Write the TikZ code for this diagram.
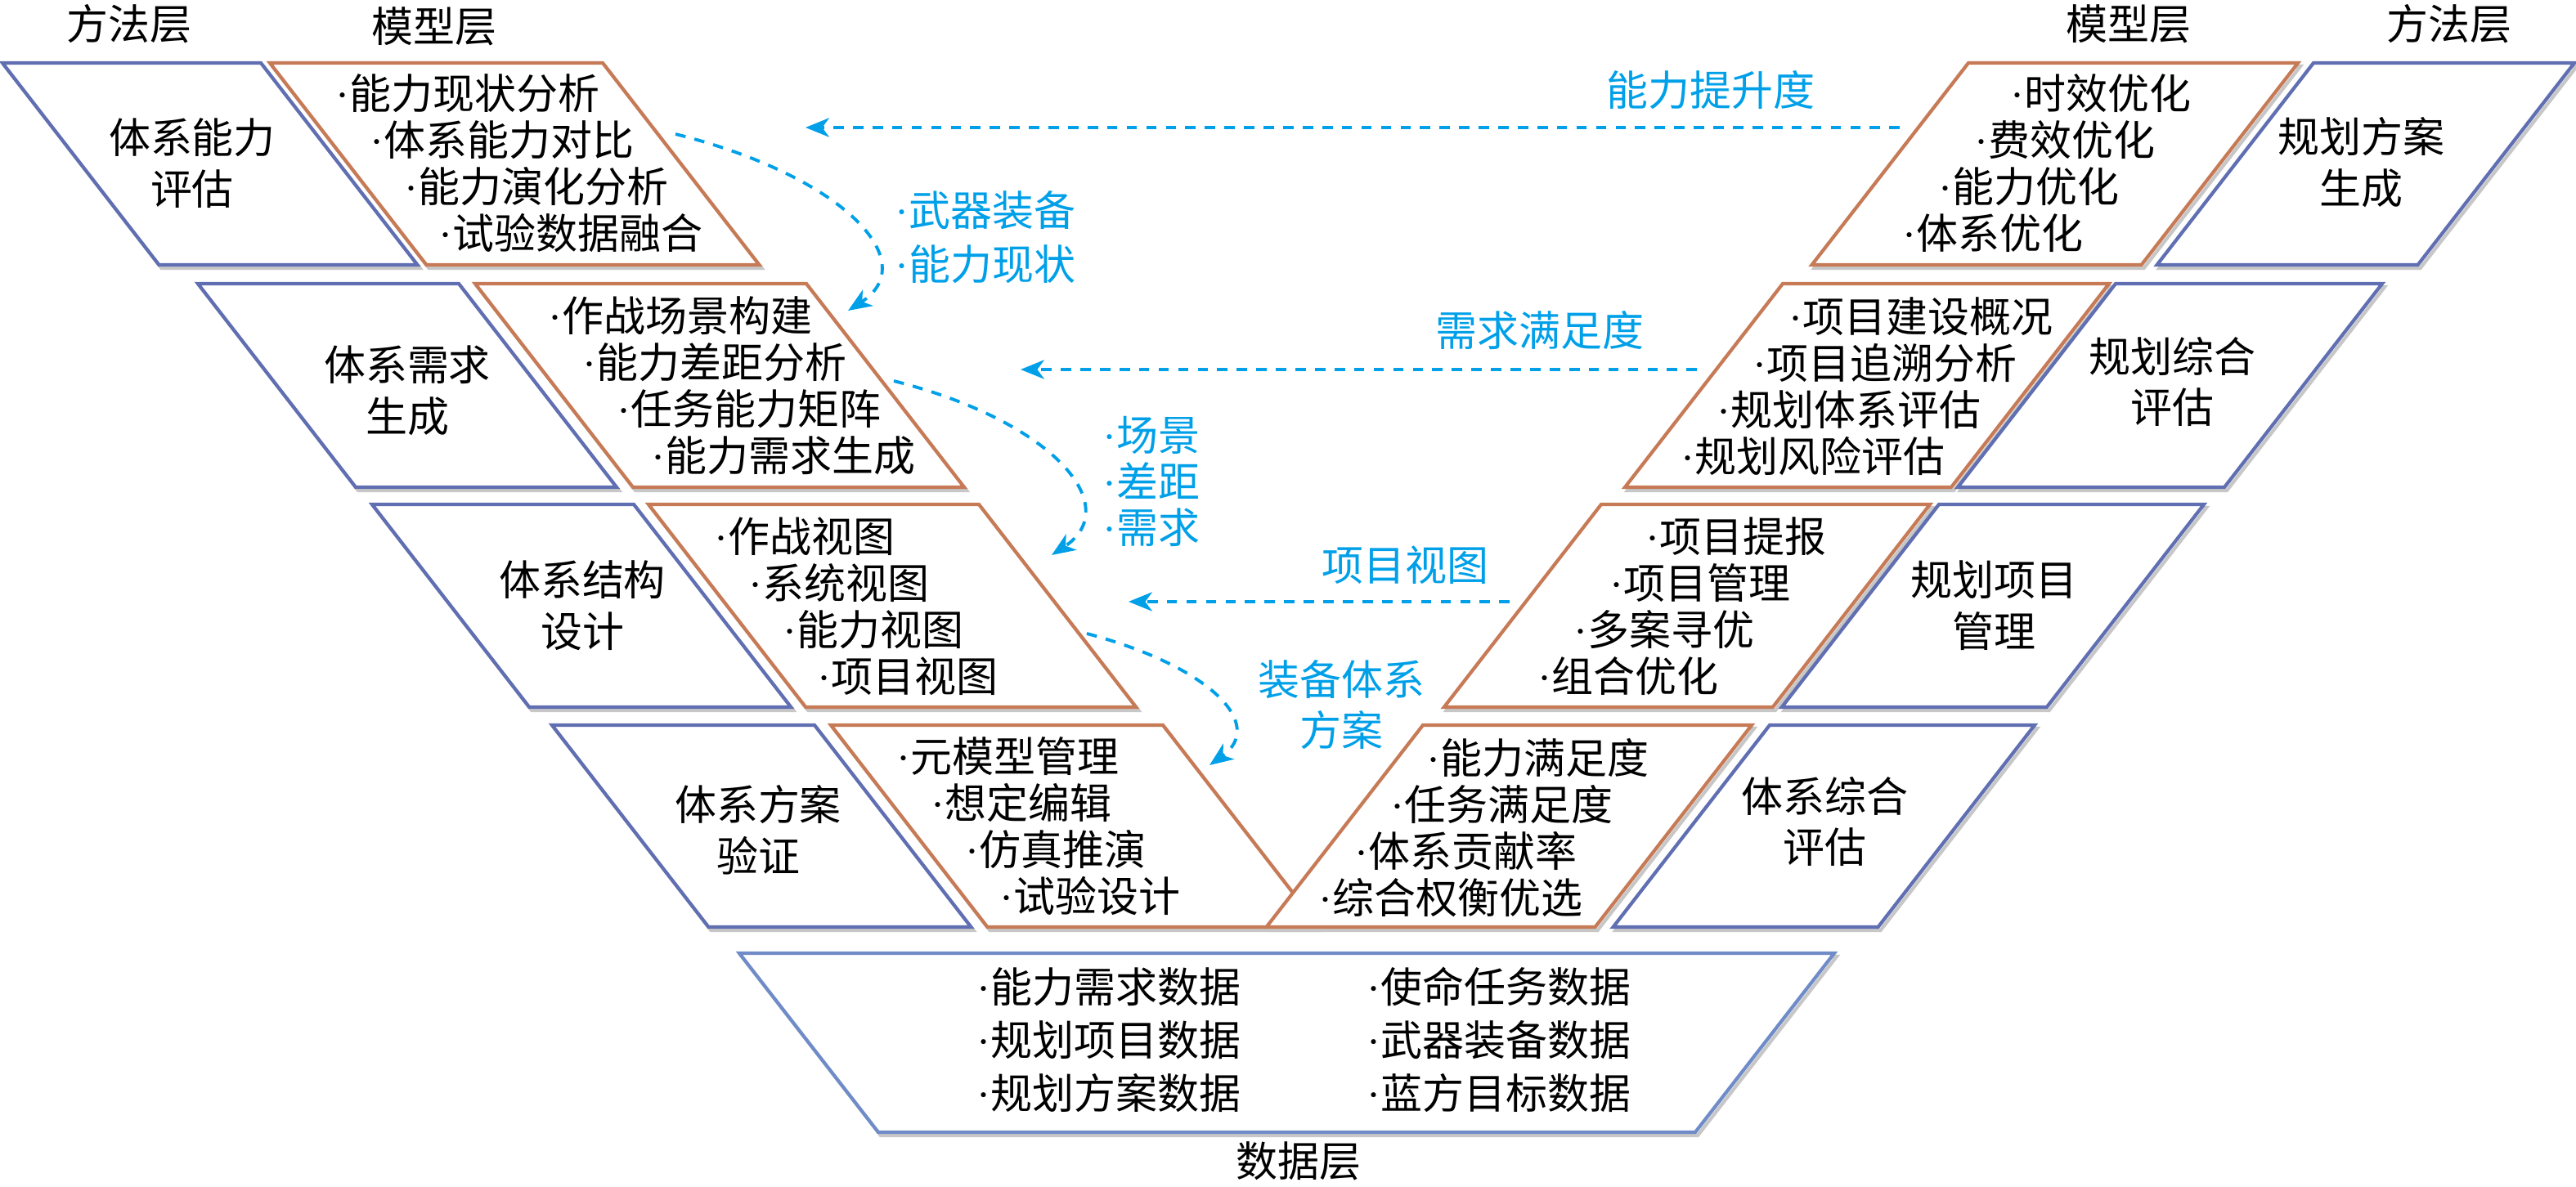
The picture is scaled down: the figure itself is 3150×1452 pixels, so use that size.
\documentclass[tikz,border=0pt]{standalone}
\usepackage{fontspec}
\newfontfamily\cjk{Noto Sans CJK SC}
\newfontfamily\latinf{Liberation Serif}
\usetikzlibrary{arrows.meta}
\definecolor{bluebox}{RGB}{96,110,178}
\definecolor{orgbox}{RGB}{198,122,86}
\definecolor{databox}{RGB}{112,140,200}
\definecolor{cyanc}{RGB}{0,160,233}
\newcommand\mydot{{\latinf ·}}
% parallelogram: #1 colour, #2 top-left x, #3 top-right x, #4 top y, #5 bottom y, #6 slope
\newcommand\pgram[6]{%
  \draw[draw=black!22, line width=1.2pt, shift={(3,4)}] (#2,#4) -- (#3,#4) -- ({#3+(#6)*(#5-#4)},#5) -- ({#2+(#6)*(#5-#4)},#5) -- cycle;
  \draw[draw=#1, fill=white, line width=1.2pt] (#2,#4) -- (#3,#4) -- ({#3+(#6)*(#5-#4)},#5) -- ({#2+(#6)*(#5-#4)},#5) -- cycle;
}
\tikzset{
  bk/.style={inner sep=0pt, text=black, font=\cjk\fontsize{14.5}{16.2}\selectfont, align=left, anchor=west},
  mt/.style={inner sep=0pt, text=black, font=\cjk\fontsize{14.5}{17.9}\selectfont, align=center},
  dl/.style={inner sep=0pt, text=black, font=\cjk\fontsize{14.5}{18.5}\selectfont, align=left, anchor=west},
  hd/.style={inner sep=0pt, text=black, font=\cjk\fontsize{14.5}{17}\selectfont},
  cy/.style={inner sep=0pt, text=cyanc, font=\cjk\fontsize{14.5}{16.2}\selectfont},
  conn/.style={cyanc, line width=1.1pt, dash pattern=on 3.6pt off 3.2pt, -{Stealth[length=8.2pt,width=6.6pt,inset=2.4pt]}},
}
\begin{document}
\begin{tikzpicture}[x=0.01cm, y=-0.01cm]
\useasboundingbox (0,0) rectangle (3150,1452);
\fill[white] (0,0) rectangle (3150,1452);

% ---- left method boxes
\pgram{bluebox}{3}{319}{77}{324}{0.775}
\pgram{bluebox}{242}{561}{347}{596}{0.775}
\pgram{bluebox}{455}{775}{617}{865}{0.775}
\pgram{bluebox}{675}{996}{887}{1134}{0.775}
% ---- left model boxes
\pgram{orgbox}{330}{737}{77}{324}{0.775}
\pgram{orgbox}{581}{986}{347}{596}{0.775}
\pgram{orgbox}{793}{1197}{617}{865}{0.775}
\pgram{orgbox}{1016}{1422}{887}{1134}{0.775}
% ---- right model boxes
\pgram{orgbox}{2407}{2810}{77}{324}{-0.775}
\pgram{orgbox}{2180}{2579}{347}{596}{-0.775}
\pgram{orgbox}{1958}{2360}{617}{865}{-0.775}
\pgram{orgbox}{1740}{2142}{887}{1134}{-0.775}
% ---- right method boxes
\pgram{bluebox}{2829}{3148}{77}{324}{-0.775}
\pgram{bluebox}{2587}{2913}{347}{596}{-0.775}
\pgram{bluebox}{2371}{2695}{617}{865}{-0.775}
\pgram{bluebox}{2164}{2488}{887}{1134}{-0.775}
% ---- data box
\draw[draw=black!22, line width=1.2pt, shift={(3,4)}] (904,1166) -- (2243,1166) -- (2073,1385) -- (1074,1385) -- cycle;
\draw[draw=databox, fill=white, line width=1.2pt] (904,1166) -- (2243,1166) -- (2073,1385) -- (1074,1385) -- cycle;

% ---- headers
\node[hd] (h1) at (158,29) {方法层};
\node[hd] (h2) at (531,32) {模型层};
\node[hd] (h3) at (2603,29) {模型层};
\node[hd] (h4) at (2995,29) {方法层};

% ---- method texts
\node[mt] (lme1) at (235,200) {体系能力\\评估};
\node[mt] (lme2) at (498,478) {体系需求\\生成};
\node[mt] (lme3) at (712,741) {体系结构\\设计};
\node[mt] (lme4) at (927,1015) {体系方案\\验证};
\node[mt] (rme1) at (2887,199) {规划方案\\生成};
\node[mt] (rme2) at (2656,467) {规划综合\\评估};
\node[mt] (rme3) at (2438,741) {规划项目\\管理};
\node[mt] (rme4) at (2231,1005) {体系综合\\评估};

% ---- model texts (left)
\node[bk] (lmod1) at (410,200) {\mydot 能力现状分析\\\hspace*{0.42cm}\mydot 体系能力对比\\\hspace*{0.84cm}\mydot 能力演化分析\\\hspace*{1.26cm}\mydot 试验数据融合};
\node[bk] (lmod2) at (670,472) {\mydot 作战场景构建\\\hspace*{0.42cm}\mydot 能力差距分析\\\hspace*{0.84cm}\mydot 任务能力矩阵\\\hspace*{1.26cm}\mydot 能力需求生成};
\node[bk] (lmod3) at (873,742) {\mydot 作战视图\\\hspace*{0.42cm}\mydot 系统视图\\\hspace*{0.84cm}\mydot 能力视图\\\hspace*{1.26cm}\mydot 项目视图};
\node[bk] (lmod4) at (1096,1011) {\mydot 元模型管理\\\hspace*{0.42cm}\mydot 想定编辑\\\hspace*{0.84cm}\mydot 仿真推演\\\hspace*{1.26cm}\mydot 试验设计};
% ---- model texts (right)
\node[bk] (rmod1) at (2326,200) {\hspace*{1.32cm}\mydot 时效优化\\\hspace*{0.88cm}\mydot 费效优化\\\hspace*{0.44cm}\mydot 能力优化\\\mydot 体系优化};
\node[bk] (rmod2) at (2055,473) {\hspace*{1.32cm}\mydot 项目建设概况\\\hspace*{0.88cm}\mydot 项目追溯分析\\\hspace*{0.44cm}\mydot 规划体系评估\\\mydot 规划风险评估};
\node[bk] (rmod3) at (1880,742) {\hspace*{1.32cm}\mydot 项目提报\\\hspace*{0.88cm}\mydot 项目管理\\\hspace*{0.44cm}\mydot 多案寻优\\\mydot 组合优化};
\node[bk] (rmod4) at (1612,1013) {\hspace*{1.32cm}\mydot 能力满足度\\\hspace*{0.88cm}\mydot 任务满足度\\\hspace*{0.44cm}\mydot 体系贡献率\\\mydot 综合权衡优选};

% ---- data texts
\node[dl] (dat1) at (1194,1272) {\mydot 能力需求数据\\\mydot 规划项目数据\\\mydot 规划方案数据};
\node[dl] (dat2) at (1671,1272) {\mydot 使命任务数据\\\mydot 武器装备数据\\\mydot 蓝方目标数据};
\node[hd] (dlab) at (1588,1420) {数据层};

% ---- cyan labels
\node[cy] (c1) at (2092,110) {能力提升度};
\node[cy, align=left, anchor=west, font=\cjk\fontsize{14.5}{18.8}\selectfont] (c2) at (1094,290) {\mydot 武器装备\\\mydot 能力现状};
\node[cy] (c3) at (1883,404) {需求满足度};
\node[cy, align=left, anchor=west] (c4) at (1348,589) {\mydot 场景\\\mydot 差距\\\mydot 需求};
\node[cy] (c5) at (1718,691) {项目视图};
\node[cy, align=center, font=\cjk\fontsize{14.5}{17.6}\selectfont] (c6) at (1640,862) {装备体系\\方案};

% ---- connector end points
\coordinate (a1s) at (2323,156); \coordinate (a1e) at (985,156);
\coordinate (a2s) at (826,164);  \coordinate (a2e) at (1037,380);
\coordinate (a3s) at (2075,452); \coordinate (a3e) at (1248,452);
\coordinate (a4s) at (1093,466); \coordinate (a4e) at (1286,679);
\coordinate (a5s) at (1846,736); \coordinate (a5e) at (1380,736);
\coordinate (a6s) at (1329,775); \coordinate (a6e) at (1479,936);

\draw[conn] (a1s) -- (a1e);
\draw[conn] (a2s) .. controls (1030,215) and (1130,320) .. (a2e);
\draw[conn] (a3s) -- (a3e);
\draw[conn] (a4s) .. controls (1290,516) and (1375,620) .. (a4e);
\draw[conn] (a5s) -- (a5e);
\draw[conn] (a6s) .. controls (1479,815) and (1549,886) .. (a6e);
\end{tikzpicture}
\end{document}
